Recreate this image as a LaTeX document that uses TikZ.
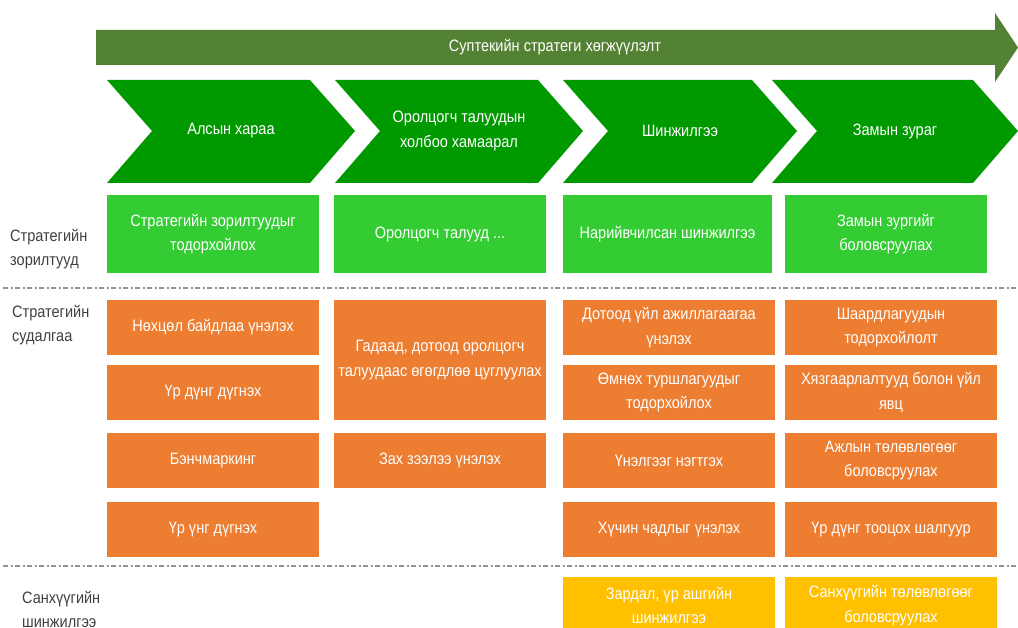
\documentclass[tikz,border=0pt]{standalone}
\usepackage{fontspec}
\setmainfont[FakeStretch=0.88]{Liberation Sans}
\definecolor{arrowgreen}{HTML}{548235}
\definecolor{chevgreen}{HTML}{009A00}
\definecolor{boxgreen}{HTML}{33CC33}
\definecolor{boxorange}{HTML}{ED7D31}
\definecolor{boxyellow}{HTML}{FFC000}
\definecolor{labelgray}{HTML}{404040}
\definecolor{dashgray}{HTML}{8A988A}
\newcommand\chevron[6]{% name, left, notch, right, tip, text
  \fill[chevgreen] (#2,80) -- (#4,80) -- (#5,131) -- (#4,183) -- (#2,183) -- (#3,131) -- cycle;
  \node[wtext] (#1) at ({(#3+#4)/2},131) {#6};
}
\begin{document}
\begin{tikzpicture}[x=1pt,y=-1pt,
  wtext/.style={text=white,font=\fontsize{16.5}{24.5}\selectfont,align=center,inner sep=0pt},
  cell/.style={wtext,outer sep=0pt,minimum width=212pt,minimum height=55pt},
  gcell/.style={cell,fill=boxgreen,minimum height=78pt},
  ocell/.style={cell,fill=boxorange},
  ycell/.style={cell,fill=boxyellow,minimum height=57pt},
  rowlabel/.style={text=labelgray,font=\fontsize{16.5}{24}\selectfont,align=left,anchor=west,inner sep=0pt},
  sep/.style={dashgray,line width=1.3pt,dash pattern=on 5pt off 2.5pt on 2pt off 2.5pt}]
\useasboundingbox (0,0) rectangle (1018,628);
\clip (0,0) rectangle (1018,628);
% top arrow
\fill[arrowgreen] (96,30) -- (995,30) -- (995,13) -- (1018,47.5) -- (995,82) -- (995,65) -- (96,65) -- cycle;
\node[wtext] (title) at (555,47.5) {Суптекийн стратеги хөгжүүлэлт};
% chevrons
\chevron{c1}{107}{152}{310}{355}{Алсын хараа}
\chevron{c2}{335}{380}{538}{583}{Оролцогч талуудын\\холбоо хамаарал}
\chevron{c3}{563}{608}{752}{797}{Шинжилгээ}
\chevron{c4}{772}{817}{973}{1018}{Замын зураг}
% green row
\node[gcell] (g1) at (213,234) {Стратегийн зорилтуудыг\\тодорхойлох};
\node[gcell] (g2) at (440,234) {Оролцогч талууд ...};
\node[gcell,minimum width=209pt] (g3) at (667.5,234) {Нарийвчилсан шинжилгээ};
\node[gcell,minimum width=202pt] (g4) at (886,234) {Замын зургийг\\боловсруулах};
% separators
\coordinate (s1a) at (3,288); \coordinate (s1b) at (1018,288);
\coordinate (s2a) at (3,566); \coordinate (s2b) at (1018,566);
\draw[sep] (s1a) -- (s1b);
\draw[sep] (s2a) -- (s2b);
% row labels
\node[rowlabel] (l1) at (10,249) {Стратегийн\\зорилтууд};
\node[rowlabel] (l2) at (12,325) {Стратегийн\\судалгаа};
\node[rowlabel] (l3) at (22,609) {Санхүүгийн\\шинжилгээ};
% orange col1
\node[ocell] (o11) at (213,327.5) {Нөхцөл байдлаа үнэлэх};
\node[ocell] (o12) at (213,392.5) {Үр дүнг дүгнэх};
\node[ocell] (o13) at (213,460.5) {Бэнчмаркинг};
\node[ocell] (o14) at (213,529.5) {Үр үнг дүгнэх};
% orange col2
\node[ocell,minimum height=120pt] (o21) at (440,360) {Гадаад, дотоод оролцогч\\талуудаас өгөгдлөө цуглуулах};
\node[ocell] (o23) at (440,460.5) {Зах зээлээ үнэлэх};
% orange col3
\node[ocell] (o31) at (669,327.5) {Дотоод үйл ажиллагаагаа\\үнэлэх};
\node[ocell] (o32) at (669,392.5) {Өмнөх туршлагуудыг\\тодорхойлох};
\node[ocell] (o33) at (669,460.5) {Үнэлгээг нэгтгэх};
\node[ocell] (o34) at (669,529.5) {Хүчин чадлыг үнэлэх};
% orange col4
\node[ocell] (o41) at (891,327.5) {Шаардлагуудын\\тодорхойлолт};
\node[ocell] (o42) at (891,392.5) {Хязгаарлалтууд болон үйл\\явц};
\node[ocell] (o43) at (891,460.5) {Ажлын төлөвлөгөөг\\боловсруулах};
\node[ocell] (o44) at (891,529.5) {Үр дүнг тооцох шалгуур};
% yellow row
\node[ycell] (y3) at (669,605.5) {Зардал, үр ашгийн\\шинжилгээ};
\node[ycell] (y4) at (891,605.5) {Санхүүгийн төлөвлөгөөг\\боловсруулах};
\end{tikzpicture}
\end{document}
